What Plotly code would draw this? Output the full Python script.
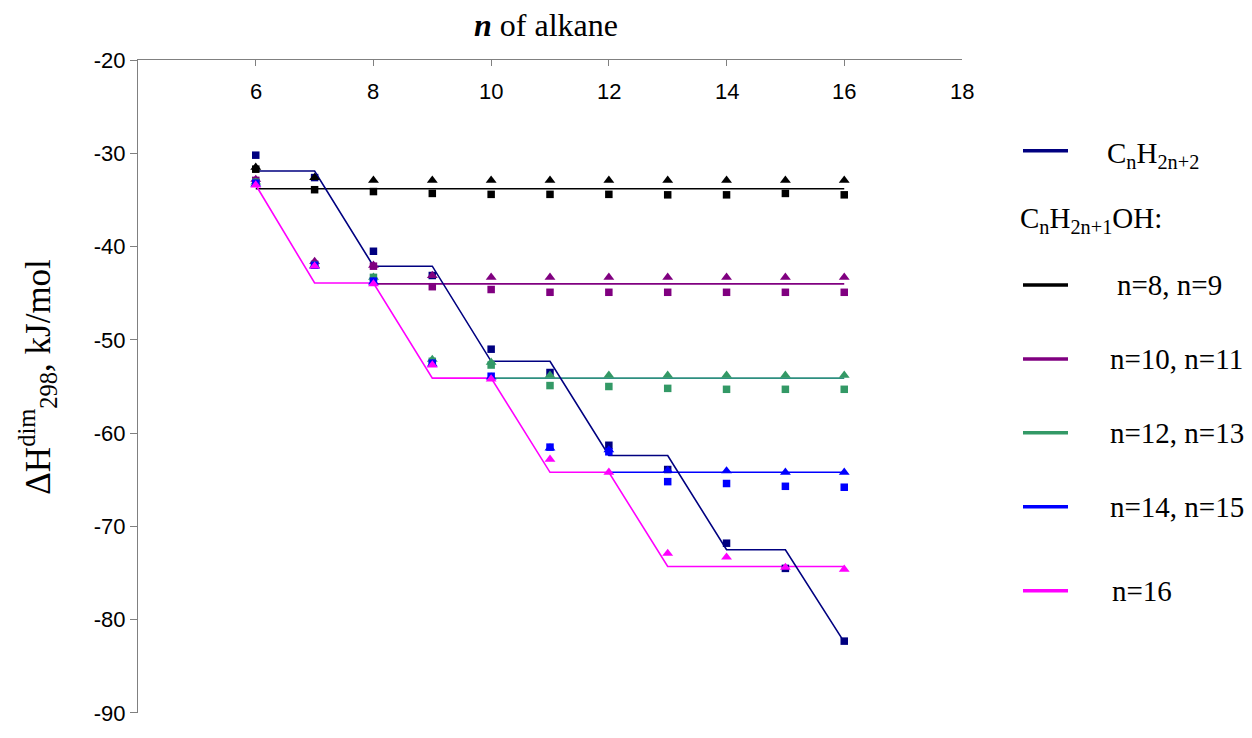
import plotly.graph_objects as go

# ---------------- data ----------------
n_alkane = [6, 7, 8, 9, 10, 11, 12, 13, 14, 15, 16]

# C_nH_2n+2 (alkane) dimers
alkane_pts = [-30.2, -32.6, -40.5, -43.1, -51.0, -53.5, -61.3, -63.9, -71.8, -74.5, -82.3]
alkane_fit = [-31.9, -31.9, -42.1, -42.1, -52.3, -52.3, -62.4, -62.4, -72.5, -72.5, -82.4]

# alcohols n=8 (squares) and n=9 (triangles)
alc8_sq = [-31.7, -33.9, -34.1, -34.3, -34.4, -34.4, -34.4, -34.45, -34.45, -34.3, -34.45]
alc9_tri = [-31.5, -32.6, -32.9, -32.9, -32.9, -32.9, -32.9, -32.9, -32.9, -32.9, -32.9]
fit_8_9_x = [6, 16]
fit_8_9_y = [-33.8, -33.8]

# alcohols n=10 (squares) and n=11 (triangles)
alc10_sq = [-32.9, -41.9, -42.1, -44.3, -44.6, -44.9, -44.9, -44.9, -44.9, -44.9, -44.9]
alc11_tri = [-32.8, -41.6, -42.0, -43.1, -43.3, -43.3, -43.3, -43.3, -43.3, -43.3, -43.3]
fit_10_11_x = [8, 16]
fit_10_11_y = [-44.0, -44.0]

# alcohols n=12 (squares) and n=13 (triangles)
alc12_sq = [-33.1, -42.0, -43.3, -52.3, -52.7, -54.9, -55.0, -55.2, -55.3, -55.3, -55.3]
alc13_tri = [-33.1, -42.0, -43.3, -52.1, -52.4, -53.8, -53.8, -53.8, -53.8, -53.8, -53.8]
fit_12_13_x = [10, 16]
fit_12_13_y = [-54.1, -54.1]

# alcohols n=14 (squares) and n=15 (triangles)
alc14_sq = [-33.2, -42.0, -43.7, -52.5, -53.9, -61.5, -62.0, -65.2, -65.4, -65.7, -65.8]
alc15_tri = [-33.3, -42.1, -43.8, -52.6, -54.0, -61.6, -61.8, -64.0, -64.05, -64.2, -64.2]
fit_14_15_x = [12, 16]
fit_14_15_y = [-64.2, -64.2]

# alcohol n=16 (triangles)
alc16_tri = [-33.4, -42.1, -44.0, -52.7, -54.2, -62.8, -64.2, -72.9, -73.3, -74.4, -74.6]
fit_16 = [-33.4, -43.9, -43.9, -54.1, -54.1, -64.2, -64.2, -74.3, -74.3, -74.3, -74.3]

x_ticks = [6, 8, 10, 12, 14, 16, 18]
y_ticks = [-20, -30, -40, -50, -60, -70, -80, -90]

legend_labels = [
    "C<sub>n</sub>H<sub>2n+2</sub>",
    "C<sub>n</sub>H<sub>2n+1</sub>OH:",
    "n=8, n=9",
    "n=10, n=11",
    "n=12, n=13",
    "n=14, n=15",
    "n=16",
]

# ---------------- style ----------------
NAVY = "#000080"
BLACK = "#000000"
PURPLE = "#800080"
GREEN = "#339966"
GREEN_LINE = "#2e8f80"
BLUE = "#0000FF"
PINK = "#FF00FF"

SQ = 7.5
TRI = 9.5
LW = 1.6

fig = go.Figure()


def line(x, y, color):
    fig.add_trace(go.Scatter(x=x, y=y, mode="lines", line=dict(color=color, width=LW),
                             showlegend=False, hoverinfo="skip"))


def marks(y, color, symbol, size):
    fig.add_trace(go.Scatter(x=n_alkane, y=y, mode="markers",
                             marker=dict(symbol=symbol, size=size, color=color, line=dict(width=0)),
                             showlegend=False))


# fitted lines
line(fit_8_9_x, fit_8_9_y, BLACK)
line(fit_10_11_x, fit_10_11_y, PURPLE)
line(fit_12_13_x, fit_12_13_y, GREEN_LINE)
line(fit_14_15_x, fit_14_15_y, BLUE)
line(n_alkane, fit_16, PINK)
line(n_alkane, alkane_fit, NAVY)

# points
marks(alkane_pts, NAVY, "square", SQ)
marks(alc8_sq, BLACK, "square", SQ)
marks(alc9_tri, BLACK, "triangle-up", TRI)
marks(alc10_sq, PURPLE, "square", SQ)
marks(alc11_tri, PURPLE, "triangle-up", TRI)
marks(alc12_sq, GREEN, "square", SQ)
marks(alc13_tri, GREEN, "triangle-up", TRI)
marks(alc14_sq, BLUE, "square", SQ)
marks(alc15_tri, BLUE, "triangle-up", TRI)
marks(alc16_tri, PINK, "triangle-up", TRI)

# ---------------- layout ----------------
L, R, T, B = 138, 962, 60, 722
W, H = 1252, 738


def px(xp):
    return (xp - L) / (R - L)


def py(yp):
    return (B - yp) / (B - T)


TICKFONT = dict(family="Liberation Sans, Arial", size=22, color="black")

fig.update_layout(
    width=W, height=H,
    margin=dict(l=L, r=W - R, t=T, b=H - B, pad=0),
    paper_bgcolor="white", plot_bgcolor="white",
    showlegend=False,
    xaxis=dict(
        range=[3.999, 18.001], side="top", tickvals=x_ticks,
        ticks="inside", ticklen=6, tickcolor="#808080",
        showticklabels=False,
        showline=True, linecolor="#808080", linewidth=1.2,
        showgrid=False, zeroline=False,
    ),
    yaxis=dict(
        range=[-90.005, -19.995], tickvals=y_ticks, ticktext=[str(v) for v in y_ticks],
        ticks="outside", ticklen=7, tickcolor="#808080",
        showline=True, linecolor="#808080", linewidth=1.2,
        showgrid=False, zeroline=False,
        tickfont=TICKFONT,
    ),
)

# x tick labels (drawn below the top axis line, inside the plot)
for v in x_ticks:
    fig.add_annotation(xref="x", yref="paper", x=v, y=py(92), text=str(v),
                       showarrow=False, xanchor="center", yanchor="middle",
                       font=TICKFONT)

SERIF = "Liberation Serif"

# x-axis title
fig.add_annotation(xref="paper", yref="paper", x=px(546), y=py(25),
                   text="<b><i>n</i></b> of alkane", showarrow=False,
                   font=dict(family=SERIF, size=32, color="black"),
                   xanchor="center", yanchor="middle")

# y-axis title
fig.add_annotation(xref="paper", yref="paper", x=px(38), y=py(381),
                   text="ΔH<sup>dim</sup><sub>298</sub>, kJ/mol", showarrow=False,
                   textangle=-90,
                   font=dict(family=SERIF, size=35, color="black"),
                   xanchor="center", yanchor="middle")

# custom legend
leg_colors = [NAVY, None, BLACK, PURPLE, GREEN, BLUE, PINK]
leg_line_y = [152, None, 288, 363, 438, 513, 598]
leg_text_x = [1105, 1018, 1115, 1108, 1108, 1108, 1110]
leg_text_y = [156, 222, 288, 363, 438, 513, 598]
for col, ly, tx, ty, lab in zip(leg_colors, leg_line_y, leg_text_x, leg_text_y, legend_labels):
    if col is not None:
        fig.add_shape(type="line", xref="paper", yref="paper",
                      x0=px(1023), x1=px(1068), y0=py(ly), y1=py(ly),
                      line=dict(color=col, width=3.5))
    fig.add_annotation(xref="paper", yref="paper", x=px(tx), y=py(ty),
                       text=lab, showarrow=False, xanchor="left", yanchor="middle",
                       font=dict(family=SERIF, size=29, color="black"))

fig.write_html("out.html")
